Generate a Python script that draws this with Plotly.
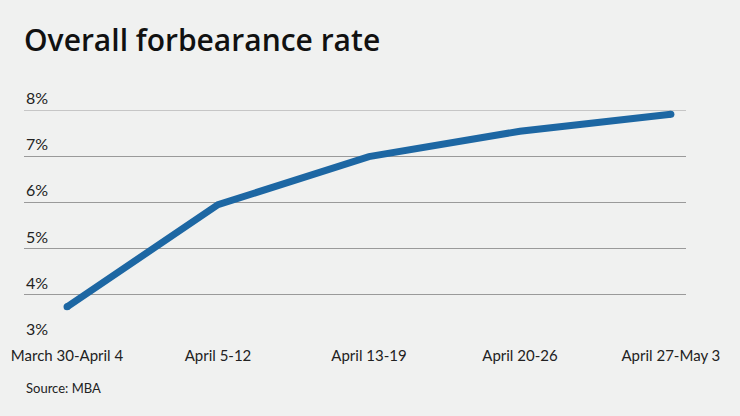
import plotly.graph_objects as go

categories = ["March 30-April 4", "April 5-12", "April 13-19", "April 20-26", "April 27-May 3"]
rates = [3.74, 5.95, 6.99, 7.54, 7.91]
y_ticks = [3, 4, 5, 6, 7, 8]
y_tick_labels = ["3%", "4%", "5%", "6%", "7%", "8%"]

bg = "#f0f1f0"
line_color = "#1d67a3"
font_family = "Lato, 'Open Sans', sans-serif"
title_font = "'Open Sans', Lato, sans-serif"

xs = list(range(len(categories)))

fig = go.Figure()
fig.add_trace(go.Scatter(
    x=xs, y=rates, mode="lines",
    line=dict(color=line_color, width=7),
    hoverinfo="skip", showlegend=False,
))
# round line caps at both ends
fig.add_trace(go.Scatter(
    x=[xs[0], xs[-1]], y=[rates[0], rates[-1]], mode="markers",
    marker=dict(color=line_color, size=7, line=dict(width=0)),
    hoverinfo="skip", showlegend=False,
))

annotations = []
for v, lab in zip(y_ticks, y_tick_labels):
    annotations.append(dict(
        x=0, xref="paper", y=v, yref="y", text=lab, showarrow=False,
        xanchor="left", yanchor="bottom", yshift=1,
        font=dict(family=font_family, size=16, color="#222222"),
    ))
annotations.append(dict(
    x=0, xref="paper", y=-(388 - 341) / (341 - 110), yref="paper",
    text="Source: MBA", showarrow=False, xanchor="left", yanchor="middle",
    font=dict(family=font_family, size=13, color="#222222"),
))

fig.update_layout(
    width=740, height=416,
    paper_bgcolor=bg, plot_bgcolor=bg,
    margin=dict(l=24, r=54, t=110, b=75),
    title=dict(
        text="Overall forbearance rate",
        x=24 / 740, xanchor="left", xref="container",
        y=1 - 40 / 416, yanchor="middle", yref="container",
        font=dict(family=title_font, size=30, color="#111111", weight=600),
    ),
    xaxis=dict(
        tickmode="array", tickvals=xs, ticktext=categories,
        range=[-0.285, 4.1], showgrid=False, zeroline=False, showline=False,
        tickfont=dict(family=font_family, size=15, color="#222222"),
        ticks="", ticklabelstandoff=4,
    ),
    yaxis=dict(
        range=[3, 8], tickvals=y_ticks, showticklabels=False,
        showgrid=True, gridcolor="#9a9a9a", gridwidth=1.2, zeroline=False,
        showline=False, ticks="",
    ),
    annotations=annotations,
    shapes=[dict(type="line", xref="paper", x0=0, x1=1, yref="y", y0=8, y1=8,
                 line=dict(color="#c6c6c6", width=2), layer="below")],
)

fig.write_html("out.html", config={"displayModeBar": False},
               post_script="document.body.style.margin='0';document.body.style.padding='0';")
